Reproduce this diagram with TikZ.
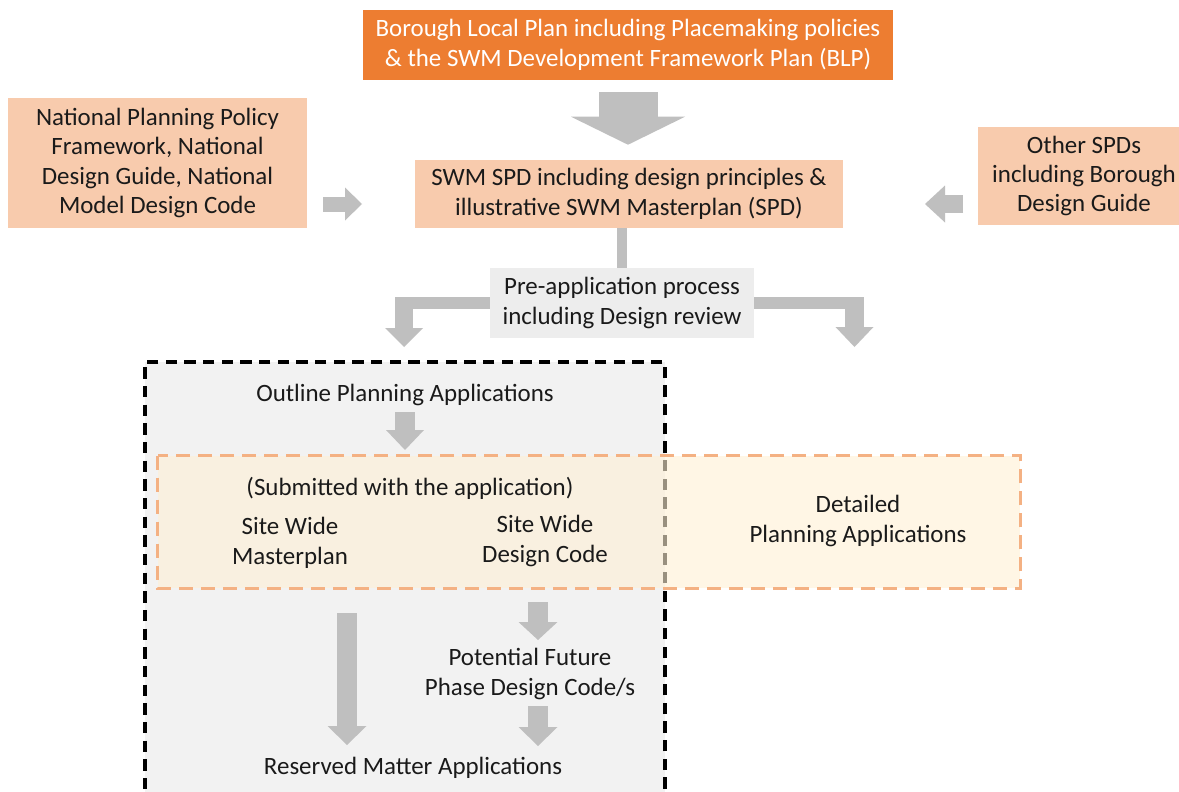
\documentclass[tikz,border=0pt]{standalone}
\usepackage{fontspec}
\setmainfont{Carlito}
\usetikzlibrary{arrows.meta,calc}
\definecolor{blporange}{HTML}{ED7D31}
\definecolor{peach}{HTML}{F8CBAD}
\definecolor{pregrey}{HTML}{EDEDED}
\definecolor{arrgrey}{HTML}{BFBFBF}
\definecolor{boxgrey}{HTML}{F2F2F2}
\definecolor{dashorange}{HTML}{F4B183}
\definecolor{cream}{HTML}{FFF0D4}
\definecolor{ink}{HTML}{1A1A1A}
\begin{document}
\begin{tikzpicture}[x=0.75pt,y=-0.75pt,
  txt/.style={font=\fontsize{18.7}{22}\selectfont, align=center, inner sep=0pt, text=ink},
  box/.style n args={2}{txt, rectangle, minimum width=#1, minimum height=#2},
  blk/.style n args={3}{draw=arrgrey, line width=#1, -{Triangle[width=#2,length=#3,line width=0pt]}},
  bar/.style={draw=arrgrey, line width=#1},
]
\useasboundingbox (0,0) rectangle (1179,792);
\fill[white] (0,0) rectangle (1179,792);

% containers
\node[draw=black, fill=boxgrey, line width=2.4pt, dash pattern=on 8.5pt off 5.5pt,
      rectangle, minimum width=390pt, minimum height=336pt, inner sep=0pt] (outlinebox) at (405,586) {};
\node[fill=cream, fill opacity=0.6, rectangle, minimum width=646.5pt, minimum height=99pt,
      inner sep=0pt] (submitbox) at (589,522) {};
\draw[dashorange, line width=1.9pt, dash pattern=on 10.5pt off 6pt]
  (submitbox.north west) rectangle (submitbox.south east);

% boxes
\node[box={397.5pt}{52.5pt}, fill=blporange, text=white] (blp) at (628,45)
  {Borough Local Plan including Placemaking policies\\\&{} the SWM Development Framework Plan (BLP)};
\node[box={321pt}{51pt}, fill=peach] (spd) at (629,194)
  {SWM SPD including design principles \&\\illustrative SWM Masterplan (SPD)};
\node[box={224.25pt}{97.5pt}, fill=peach] (nppf) at (157.5,163)
  {National Planning Policy\\Framework, National\\Design Guide, National\\Model Design Code};
\node[box={159pt}{73.5pt}, fill=peach] (other) at (1084,176)
  {Other SPDs\\including Borough\\Design Guide};
\node[box={198pt}{52.5pt}, fill=pregrey] (pre) at (622,303)
  {Pre-application process\\including Design review};

% texts
\node[txt] (outline) at (405,395) {Outline Planning Applications};
\node[txt] (submitted) at (410,488) {(Submitted with the application)};
\node[txt] (swm) at (290,543) {Site Wide\\Masterplan};
\node[txt] (swdc) at (545,541) {Site Wide\\Design Code};
\node[txt] (detailed) at (858,521) {Detailed\\Planning Applications};
\node[txt] (potential) at (530,674) {Potential Future\\Phase Design Code/s};
\node[txt] (reserved) at (413,768) {Reserved Matter Applications};

% connector coordinates
\coordinate (nA) at (323,204);   \coordinate (nB) at (362,204);
\coordinate (oA) at (963,204);   \coordinate (oB) at (925,204);
\coordinate (lA) at (395,303);   \coordinate (lT) at (404,297); \coordinate (lE) at (404,347);
\coordinate (rA) at (864,303);   \coordinate (rT) at (854.5,297); \coordinate (rE) at (854.5,347);
\coordinate (uA) at (405,412);   \coordinate (uB) at (405,450);
\coordinate (mA) at (347,613);   \coordinate (mB) at (347,745);
\coordinate (sA) at (538,602);   \coordinate (sB) at (538,640);
\coordinate (tA) at (538,706);   \coordinate (tB) at (538,746);

% connectors
\draw[blk={44.25pt}{85.5pt}{21pt}, shorten <=9pt, shorten >=11.25pt] (blp.south) -- (blp.south |- spd.north);
\draw[blk={11.25pt}{24.75pt}{12.75pt}] (nA) -- (nB);
\draw[blk={13.5pt}{27.75pt}{15pt}] (oA) -- (oB);
\draw[bar=7.5pt] (pre.north) -- (pre.north |- spd.south);
\draw[bar=9pt] (pre.west) -- (lA);
\draw[blk={13.5pt}{28.5pt}{14.25pt}] (lT) -- (lE);
\draw[bar=9pt] (pre.east) -- (rA);
\draw[blk={14.25pt}{28.5pt}{15pt}] (rT) -- (rE);
\draw[blk={15pt}{28.5pt}{15pt}] (uA) -- (uB);
\draw[blk={15pt}{29.25pt}{14.25pt}] (mA) -- (mB);
\draw[blk={15pt}{29.25pt}{13.5pt}] (sA) -- (sB);
\draw[blk={15pt}{29.25pt}{14.25pt}] (tA) -- (tB);
\end{tikzpicture}
\end{document}
